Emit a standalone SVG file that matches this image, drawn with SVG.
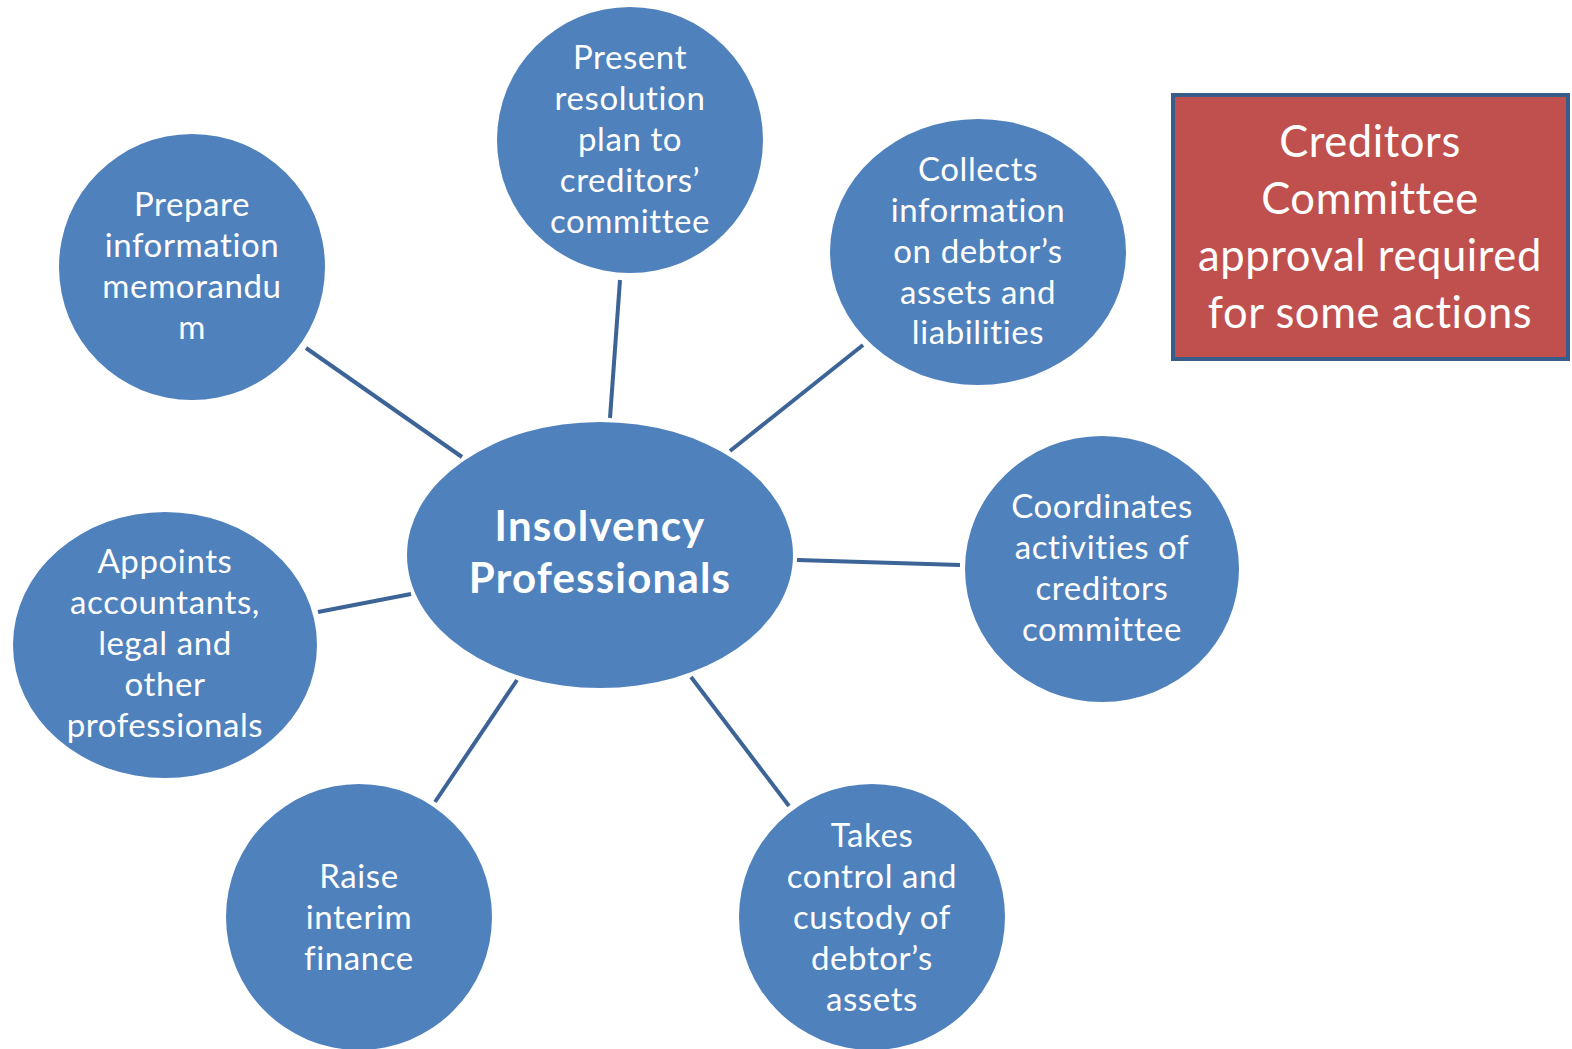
<svg xmlns="http://www.w3.org/2000/svg" width="1572" height="1049" viewBox="0 0 1572 1049">
  <style>
    .node { fill: #4F81BD; }
    .lbl { font-family: Lato, "Liberation Sans", sans-serif; font-size: 33px; letter-spacing: 0.6px; fill: #FFFFFF; text-anchor: middle; }
    .hub { font-family: Lato, "Liberation Sans", sans-serif; font-size: 42px; letter-spacing: 1.2px; font-weight: bold; fill: #FFFFFF; text-anchor: middle; }
    .note { font-family: Lato, "Liberation Sans", sans-serif; font-size: 43.5px; letter-spacing: 0.6px; fill: #FFFFFF; text-anchor: middle; }
    .link { stroke: #3C6496; stroke-width: 4; fill: none; }
  </style>
  <rect width="1572" height="1049" fill="#FFFFFF"/>

  <!-- spokes from the hub to each activity -->
  <g id="connectors">
    <line class="link" x1="306" y1="348" x2="462" y2="457"/>
    <line class="link" x1="620" y1="280" x2="610" y2="418"/>
    <line class="link" x1="863" y1="345" x2="730" y2="451"/>
    <line class="link" x1="797" y1="560" x2="960" y2="565"/>
    <line class="link" x1="691" y1="677" x2="789" y2="806"/>
    <line class="link" x1="517" y1="680" x2="435" y2="802"/>
    <line class="link" x1="411" y1="594" x2="318" y2="612"/>
  </g>

  <g id="hub">
    <ellipse class="node" cx="600" cy="555" rx="193" ry="133"/>
    <text class="hub" x="600" y="541">Insolvency</text>
    <text class="hub" x="600" y="593">Professionals</text>
  </g>

  <g id="present-plan">
    <circle class="node" cx="630" cy="140" r="133"/>
    <text class="lbl" x="630" y="69">Present</text>
    <text class="lbl" x="630" y="110">resolution</text>
    <text class="lbl" x="630" y="151">plan to</text>
    <text class="lbl" x="630" y="192">creditors’</text>
    <text class="lbl" x="630" y="233">committee</text>
  </g>

  <g id="prepare-memo">
    <circle class="node" cx="192" cy="267" r="133"/>
    <text class="lbl" x="192" y="216">Prepare</text>
    <text class="lbl" x="192" y="257">information</text>
    <text class="lbl" x="192" y="298">memorandu</text>
    <text class="lbl" x="192" y="339">m</text>
  </g>

  <g id="collects-info">
    <ellipse class="node" cx="978" cy="252" rx="148" ry="133"/>
    <text class="lbl" x="978" y="181">Collects</text>
    <text class="lbl" x="978" y="222">information</text>
    <text class="lbl" x="978" y="263">on debtor’s</text>
    <text class="lbl" x="978" y="304">assets and</text>
    <text class="lbl" x="978" y="344">liabilities</text>
  </g>

  <g id="coordinates">
    <ellipse class="node" cx="1102" cy="569" rx="137" ry="133"/>
    <text class="lbl" x="1102" y="518">Coordinates</text>
    <text class="lbl" x="1102" y="559">activities of</text>
    <text class="lbl" x="1102" y="600">creditors</text>
    <text class="lbl" x="1102" y="641">committee</text>
  </g>

  <g id="takes-control">
    <circle class="node" cx="872" cy="917" r="133"/>
    <text class="lbl" x="872" y="847">Takes</text>
    <text class="lbl" x="872" y="888">control and</text>
    <text class="lbl" x="872" y="929">custody of</text>
    <text class="lbl" x="872" y="970">debtor’s</text>
    <text class="lbl" x="872" y="1011">assets</text>
  </g>

  <g id="interim-finance">
    <circle class="node" cx="359" cy="917" r="133"/>
    <text class="lbl" x="359" y="888">Raise</text>
    <text class="lbl" x="359" y="929">interim</text>
    <text class="lbl" x="359" y="970">finance</text>
  </g>

  <g id="appoints">
    <ellipse class="node" cx="165" cy="645" rx="152" ry="133"/>
    <text class="lbl" x="165" y="573">Appoints</text>
    <text class="lbl" x="165" y="614">accountants,</text>
    <text class="lbl" x="165" y="655">legal and</text>
    <text class="lbl" x="165" y="696">other</text>
    <text class="lbl" x="165" y="737">professionals</text>
  </g>

  <g id="approval-note">
    <rect x="1173" y="95" width="395" height="264" fill="#C0504D" stroke="#385D8A" stroke-width="4"/>
    <text class="note" x="1370" y="157">Creditors</text>
    <text class="note" x="1370" y="214">Committee</text>
    <text class="note" x="1370" y="271">approval required</text>
    <text class="note" x="1370" y="328">for some actions</text>
  </g>
</svg>
